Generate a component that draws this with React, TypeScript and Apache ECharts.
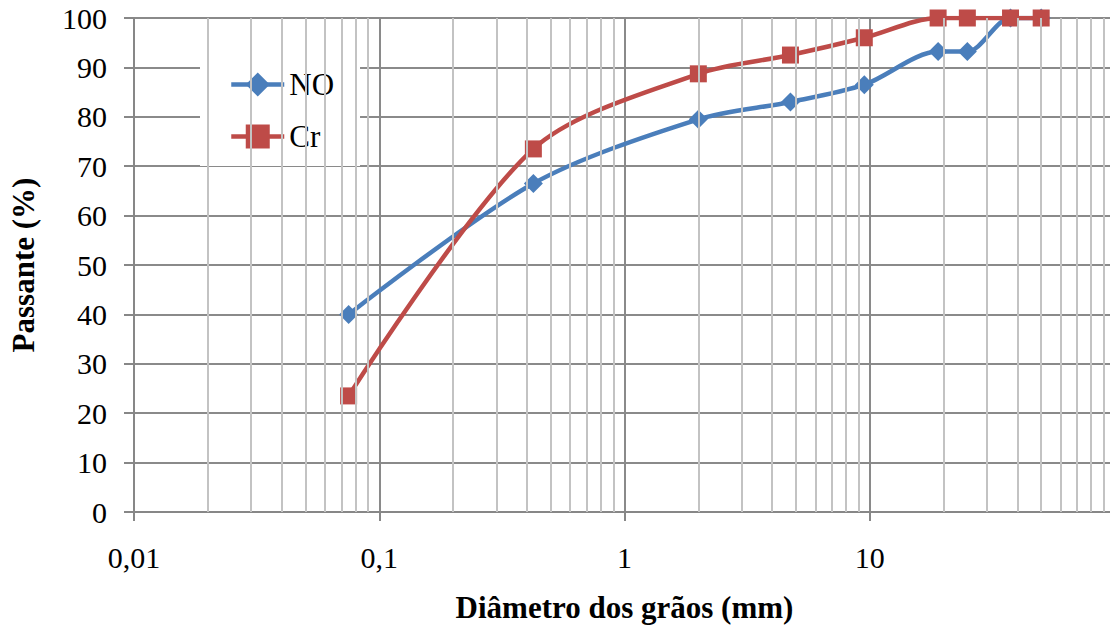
import React, { useEffect, useRef } from "react";
import * as echarts from "echarts";

// Sieve openings (mm)
const sieves = [0.075, 0.425, 2.0, 4.75, 9.5, 19, 25, 37.5, 50];
// Percent passing
const passNO = [40, 66.5, 79.5, 83, 86.5, 93.2, 93.2, 100, 100];
const passCr = [23.5, 73.5, 88.7, 92.5, 96, 100, 100, 100, 100];

const seriesNames = ["NO", "Cr"];
const xTickLabels: Record<string, string> = { "0.01": "0,01", "0.1": "0,1", "1": "1", "10": "10", "100": "" };
const decades = [0.01, 0.1, 1, 10];
const minorMultipliers = [2, 3, 4, 5, 6, 7, 8, 9];

const FONT = "Liberation Serif";

export default function App() {
  const ref = useRef<HTMLDivElement>(null);
  useEffect(() => {
    document.body.style.margin = "0";
    const chart = echarts.init(ref.current!, null, { renderer: "svg" });
    const minorLines: any[] = [];
    decades.forEach((d) => minorMultipliers.forEach((m) => minorLines.push({ xAxis: +(d * m).toPrecision(3) })));
    chart.setOption({
      animation: false,
      backgroundColor: "#ffffff",
      textStyle: { fontFamily: FONT },
      grid: { left: 134, top: 18, bottom: 123, right: 10, containLabel: false },
      legend: {
        data: seriesNames,
        left: 200,
        top: 60,
        orient: "vertical",
        backgroundColor: "#ffffff",
        padding: [9, 26, 14, 29],
        itemWidth: 53,
        itemHeight: 30,
        itemGap: 21,
        lineStyle: { width: 4.5 },
        textStyle: { fontFamily: FONT, fontSize: 31, color: "#000" },
      },
      xAxis: {
        type: "log",
        logBase: 10,
        min: 0.01,
        max: 100,
        name: "Diâmetro dos grãos (mm)",
        nameLocation: "middle",
        nameGap: 80,
        nameTextStyle: { fontFamily: FONT, fontSize: 31, fontWeight: "bold", color: "#000" },
        axisLine: { show: true, onZero: false, lineStyle: { color: "#878787", width: 2 } },
        axisTick: { show: true, inside: false, length: 9, lineStyle: { color: "#878787", width: 2 } },
        axisLabel: {
          fontFamily: FONT,
          fontSize: 30,
          color: "#000",
          margin: 30,
          formatter: (v: number) => {
            const k = String(+v.toPrecision(3));
            return xTickLabels[k] !== undefined ? xTickLabels[k] : k;
          },
        },
        splitLine: { show: true, lineStyle: { color: "#8a8a8a", width: 2 } },
      },
      yAxis: {
        type: "value",
        min: 0,
        max: 100,
        interval: 10,
        name: "Passante (%)",
        nameLocation: "middle",
        nameGap: 95,
        nameTextStyle: { fontFamily: FONT, fontSize: 31, fontWeight: "bold", color: "#000" },
        axisLine: { show: true, lineStyle: { color: "#878787", width: 2 } },
        axisTick: { show: true, inside: false, length: 10, lineStyle: { color: "#878787", width: 2 } },
        axisLabel: { fontFamily: FONT, fontSize: 30, color: "#000", margin: 27 },
        splitLine: { show: true, lineStyle: { color: "#8a8a8a", width: 2 } },
      },
      series: [
        {
          name: "minor",
          type: "line",
          data: [],
          silent: true,
          z: 1,
          markLine: {
            silent: true,
            symbol: ["none", "none"],
            label: { show: false },
            lineStyle: { color: "#c3c3c3", type: "solid", width: 2 },
            emphasis: { disabled: true },
            data: minorLines,
          },
        },
        {
          name: seriesNames[0],
          type: "line",
          data: sieves.map((s, i) => [s, passNO[i]]),
          smooth: 0.3,
          symbol: "diamond",
          symbolSize: 19,
          z: 3,
          itemStyle: { color: "#4A7EBB" },
          lineStyle: { color: "#4A7EBB", width: 4.5 },
        },
        {
          name: seriesNames[1],
          type: "line",
          data: sieves.map((s, i) => [s, passCr[i]]),
          smooth: 0.3,
          symbol: "rect",
          symbolSize: 17,
          z: 4,
          itemStyle: { color: "#BE4B48" },
          lineStyle: { color: "#BE4B48", width: 4.5 },
        },
      ],
    });
    return () => chart.dispose();
  }, []);
  return (
    <div style={{ width: 1110, height: 635, overflow: "hidden", position: "relative" }}>
      <div ref={ref} style={{ width: 1125, height: 635 }} />
    </div>
  );
}
